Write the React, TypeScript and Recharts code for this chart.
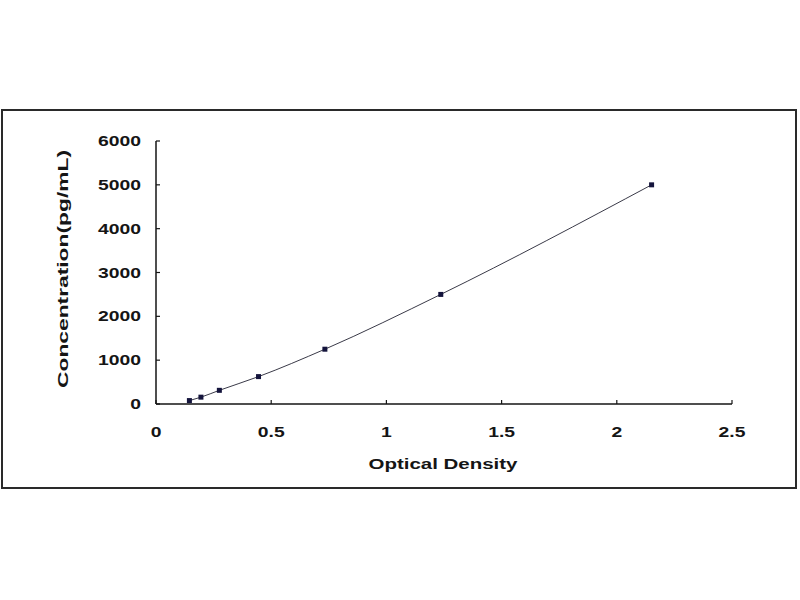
import { LineChart, Line, XAxis, YAxis } from 'recharts';

// standard curve: optical density vs concentration
const opticalDensity = [0.145, 0.195, 0.275, 0.445, 0.733, 1.236, 2.151];
const concentration = [78, 156, 312, 625, 1250, 2500, 5000];
const xTicks = [0, 0.5, 1, 1.5, 2, 2.5];
const yTicks = [0, 1000, 2000, 3000, 4000, 5000, 6000];

const data = opticalDensity.map((od, i) => ({ od, conc: concentration[i] }));

const FONT = '"Liberation Sans", Arial, sans-serif';
const INK = '#151515';

const XTick = (props: any) => {
  const { x, y, payload } = props;
  return (
    <g>
      <line x1={x} y1={y} x2={x} y2={y - 4} stroke={INK} strokeWidth={1.2} />
      <text
        transform={`translate(${x},${y + 33}) scale(1.38,1)`}
        textAnchor="middle"
        fontFamily={FONT}
        fontWeight="bold"
        fontSize={14}
        fill={INK}
      >
        {payload.value}
      </text>
    </g>
  );
};

const YTick = (props: any) => {
  const { x, y, payload } = props;
  return (
    <g>
      <line x1={x} y1={y} x2={x + 4} y2={y} stroke={INK} strokeWidth={1.2} />
      <text
        transform={`translate(${x - 15},${y + 5}) scale(1.38,1)`}
        textAnchor="end"
        fontFamily={FONT}
        fontWeight="bold"
        fontSize={14}
        fill={INK}
      >
        {payload.value}
      </text>
    </g>
  );
};

const Marker = (props: any) => {
  const { cx, cy } = props;
  if (cx == null || cy == null) return null;
  return <rect x={cx - 2.5} y={cy - 2.5} width={5} height={5} fill="#14143c" />;
};

export default function App() {
  return (
    <div style={{ position: 'absolute', left: 0, top: 0, width: 800, height: 600, background: '#fff' }}>
      <div
        style={{
          position: 'absolute',
          left: 1,
          top: 109,
          width: 796,
          height: 380,
          boxSizing: 'border-box',
          border: '2px solid #2a2a2a',
        }}
      />
      <div style={{ position: 'absolute', left: 0, top: 0 }}>
        <LineChart width={800} height={600} data={data} margin={{ top: 141, right: 68, bottom: 136, left: 56 }}>
          <XAxis
            type="number"
            dataKey="od"
            domain={[0, 2.5]}
            ticks={xTicks}
            interval={0}
            tickSize={0}
            tickMargin={0}
            height={60}
            axisLine={{ stroke: INK, strokeWidth: 1.5 }}
            tickLine={false}
            tick={<XTick />}
            label={({ viewBox }: any) => (
              <text
                x={viewBox.x + viewBox.width / 2 - 1}
                y={viewBox.y + 65}
                textAnchor="middle"
                fontFamily={FONT}
                fontWeight="bold"
                fontSize={14}
                fill={INK}
                textLength={149}
                lengthAdjust="spacingAndGlyphs"
              >
                Optical Density
              </text>
            )}
          />
          <YAxis
            type="number"
            dataKey="conc"
            domain={[0, 6000]}
            ticks={yTicks}
            interval={0}
            tickSize={0}
            tickMargin={0}
            width={100}
            axisLine={{ stroke: INK, strokeWidth: 1.5 }}
            tickLine={false}
            tick={<YTick />}
            label={({ viewBox }: any) => {
              const cx = viewBox.x + 7;
              const cy = 269;
              return (
                <text
                  x={cx}
                  y={cy + 5}
                  transform={`rotate(-90, ${cx}, ${cy})`}
                  textAnchor="middle"
                  fontFamily={FONT}
                  fontWeight="bold"
                  fontSize={14}
                  fill={INK}
                  textLength={238}
                  lengthAdjust="spacingAndGlyphs"
                >
                  Concentration(pg/mL)
                </text>
              );
            }}
          />
          <Line
            type="monotone"
            dataKey="conc"
            stroke="#3a3a48"
            strokeWidth={1}
            dot={<Marker />}
            activeDot={false}
            isAnimationActive={false}
          />
        </LineChart>
      </div>
    </div>
  );
}
